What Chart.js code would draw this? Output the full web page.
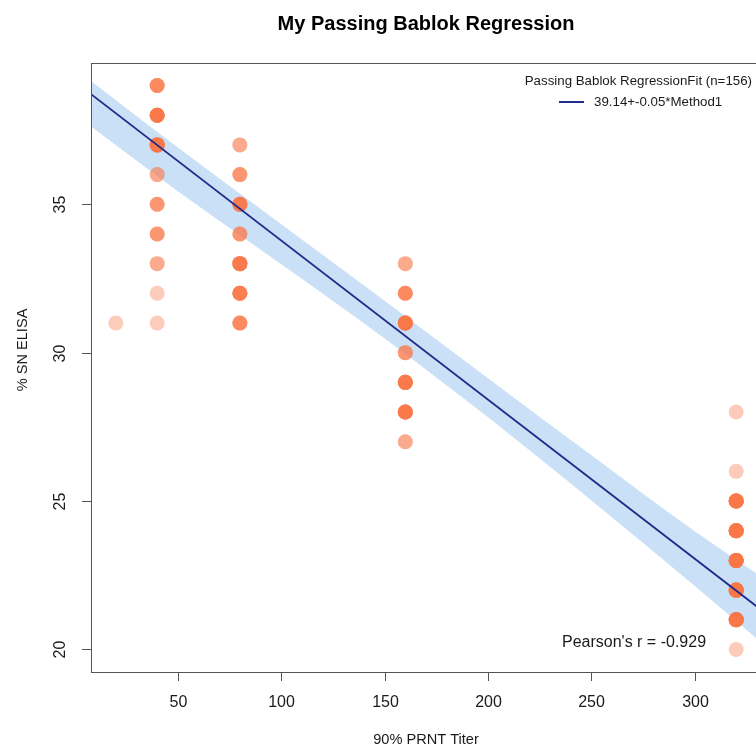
<!DOCTYPE html>
<html>
<head>
<meta charset="utf-8">
<script src="https://cdn.jsdelivr.net/npm/chart.js@4/dist/chart.umd.min.js"></script>
<style>
  html, body { margin: 0; padding: 0; background: #fff; overflow: hidden; }
  #wrap { width: 756px; height: 751px; overflow: hidden; }
</style>
</head>
<body>
<div id="wrap"><canvas id="pbChart" width="852" height="751"></canvas></div>
<script>
// observed points: titer, %SN ELISA, how many samples sit on that spot
const ptX     = [20, 40, 40, 40, 40, 40, 40, 40, 40, 40, 80, 80, 80, 80, 80, 80, 80, 160, 160, 160, 160, 160, 160, 160, 320, 320, 320, 320, 320, 320, 320, 320];
const ptY     = [31, 39, 38, 37, 36, 35, 34, 33, 32, 31, 37, 36, 35, 34, 33, 32, 31, 33, 32, 31, 30, 29, 28, 27, 28, 26, 25, 24, 23, 22, 21, 20];
const ptCount = [1, 4, 8, 8, 2, 3, 3, 2, 1, 1, 2, 3, 6, 3, 7, 6, 4, 2, 4, 8, 3, 8, 8, 2, 1, 1, 11, 11, 11, 11, 10, 1];

// fitted line and its confidence band
const fitX = [8, 332];
const fitY = [38.71, 21.34];
const bandX     = [8, 50, 100, 150, 200, 250, 300, 332];
const bandUpper = [39.15, 36.91, 34.33, 31.75, 29.14, 26.54, 23.98, 22.46];
const bandLower = [37.62, 35.44, 32.98, 30.48, 27.82, 25.02, 22.14, 20.24];

const xTicks = [50, 100, 150, 200, 250, 300];
const yTicks = [20, 25, 30, 35];

const titleText = 'My Passing Bablok Regression';
const xLabel = '90% PRNT Titer';
const yLabel = '% SN ELISA';
const legendTitle = 'Passing Bablok RegressionFit (n=156)';
const legendLabel = '39.14+-0.05*Method1';
const pearsonText = "Pearson's r = -0.929";

const FONT = '"Liberation Sans", Arial, Helvetica, sans-serif';

// repeat each point by its count so overlaps darken like the original
const points = [];
ptX.forEach((x, i) => {
    for (let k = 0; k < ptCount[i]; k++) points.push({ x: x, y: ptY[i] });
});

const decor = {
    id: 'decor',
    afterDraw(chart) {
        const c = chart.ctx;
        const a = chart.chartArea;
        const xs = chart.scales.x, ys = chart.scales.y;
        c.save();

        // frame
        c.strokeStyle = '#555';
        c.lineWidth = 1;
        c.strokeRect(Math.round(a.left) + 0.5, Math.round(a.top) + 0.5,
                     Math.round(a.right - a.left), Math.round(a.bottom - a.top));

        // x ticks
        c.fillStyle = '#1a1a1a';
        c.font = '16px ' + FONT;
        c.textAlign = 'center';
        c.textBaseline = 'middle';
        xTicks.forEach(v => {
            const px = Math.round(xs.getPixelForValue(v)) + 0.5;
            c.beginPath();
            c.moveTo(px, a.bottom);
            c.lineTo(px, a.bottom + 9);
            c.stroke();
            c.fillText(String(v), px, a.bottom + 31);
        });

        // y ticks, labels turned like R
        yTicks.forEach(v => {
            const py = Math.round(ys.getPixelForValue(v)) + 0.5;
            c.beginPath();
            c.moveTo(a.left, py);
            c.lineTo(a.left - 9, py);
            c.stroke();
            c.save();
            c.translate(a.left - 30, py);
            c.rotate(-Math.PI / 2);
            c.fillText(String(v), 0, 0);
            c.restore();
        });

        // axis titles
        c.font = '14.6px ' + FONT;
        c.fillText(xLabel, (a.left + a.right) / 2, 740);
        c.save();
        c.translate(23, 350);
        c.rotate(-Math.PI / 2);
        c.fillText(yLabel, 0, 0);
        c.restore();

        // main title
        c.fillStyle = '#000';
        c.font = 'bold 20px ' + FONT;
        c.fillText(titleText, (a.left + a.right) / 2, 24);

        // legend
        c.fillStyle = '#1a1a1a';
        c.font = '13.3px ' + FONT;
        c.textAlign = 'right';
        c.fillText(legendTitle, 752, 81);
        c.textAlign = 'left';
        c.fillText(legendLabel, 594, 102);
        c.strokeStyle = '#222a8a';
        c.lineWidth = 2;
        c.beginPath();
        c.moveTo(559, 102);
        c.lineTo(584, 102);
        c.stroke();

        // correlation note
        c.font = '16px ' + FONT;
        c.textAlign = 'left';
        c.fillText(pearsonText, 562, 643);

        c.restore();
    }
};

const ctx = document.getElementById('pbChart').getContext('2d');
const pbChart = new Chart(ctx, {
    type: 'scatter',
    data: {
        datasets: [
            {
                label: 'fit',
                type: 'line',
                data: fitX.map((x, i) => ({ x: x, y: fitY[i] })),
                borderColor: '#222a8a',
                borderWidth: 1.8,
                pointRadius: 0,
                fill: false,
                order: 0
            },
            {
                label: 'samples',
                data: points,
                backgroundColor: 'rgba(250, 118, 72, 0.38)',
                borderWidth: 0,
                pointRadius: 7.5,
                pointHoverRadius: 7.5,
                order: 1
            },
            {
                label: 'band low',
                type: 'line',
                data: bandX.map((x, i) => ({ x: x, y: bandLower[i] })),
                borderWidth: 0,
                borderColor: 'rgba(0,0,0,0)',
                pointRadius: 0,
                cubicInterpolationMode: 'monotone',
                fill: false,
                order: 3
            },
            {
                label: 'band high',
                type: 'line',
                data: bandX.map((x, i) => ({ x: x, y: bandUpper[i] })),
                borderWidth: 0,
                borderColor: 'rgba(0,0,0,0)',
                backgroundColor: 'rgba(202, 224, 246, 1)',
                pointRadius: 0,
                cubicInterpolationMode: 'monotone',
                fill: 2,
                order: 2
            }
        ]
    },
    options: {
        responsive: false,
        animation: false,
        events: [],
        layout: { padding: { left: 91, right: 91, top: 63, bottom: 79 } },
        scales: {
            x: { type: 'linear', min: 8, max: 332, display: false },
            y: { type: 'linear', min: 19.24, max: 39.76, display: false }
        },
        plugins: {
            legend: { display: false },
            tooltip: { enabled: false },
            title: { display: false }
        }
    },
    plugins: [decor]
});
</script>
</body>
</html>
